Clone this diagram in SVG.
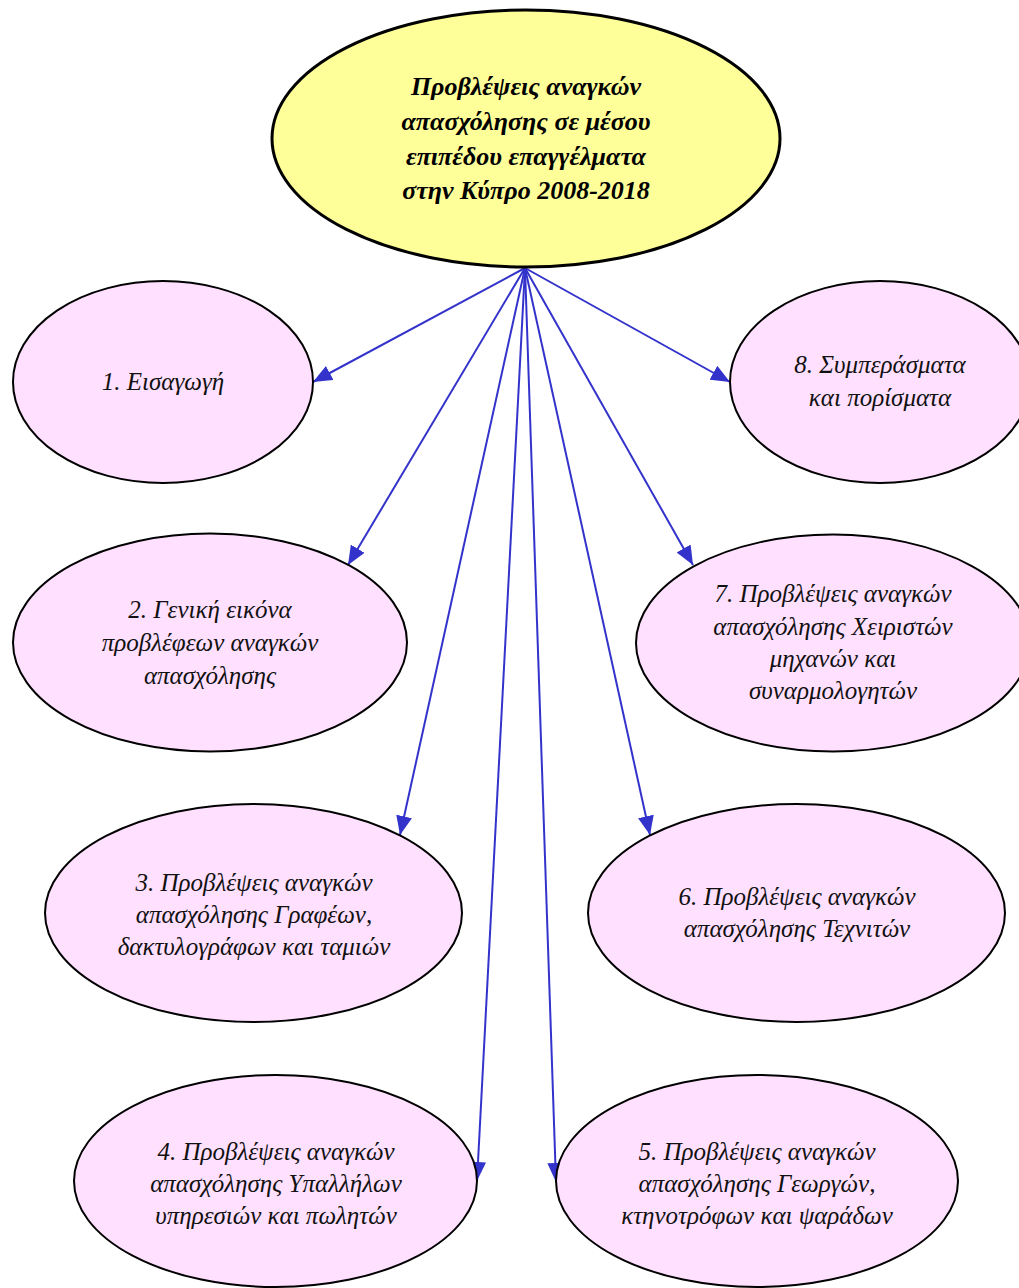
<svg xmlns="http://www.w3.org/2000/svg" width="1019" height="1288" viewBox="0 0 1019 1288">
<defs>
<style>
.root{fill:#FFFF99;stroke:#000;stroke-width:3}
.child{fill:#FFE0FF;stroke:#000;stroke-width:2}
.rt{font-family:"Liberation Serif",serif;font-style:italic;font-weight:bold;font-size:26px;fill:#000;text-anchor:middle}
.ct{font-family:"Liberation Serif",serif;font-style:italic;font-size:25px;fill:#111;text-anchor:middle}
.edge{stroke:#3333CC;stroke-width:2;fill:none;marker-end:url(#arr)}
</style>
<marker id="arr" markerUnits="userSpaceOnUse" markerWidth="20" markerHeight="16" refX="19" refY="8" orient="auto">
<path d="M0,0 L19,8 L0,16 z" fill="#3333CC"/>
</marker>
</defs>
<g id="connectors">
<line class="edge" x1="525" y1="268" x2="313" y2="382"/>
<line class="edge" x1="525" y1="268" x2="730" y2="382"/>
<line class="edge" x1="525" y1="268" x2="348" y2="565"/>
<line class="edge" x1="525" y1="268" x2="693" y2="565"/>
<line class="edge" x1="525" y1="268" x2="400" y2="835"/>
<line class="edge" x1="525" y1="268" x2="650" y2="835"/>
<line class="edge" x1="525" y1="268" x2="477" y2="1181"/>
<line class="edge" x1="525" y1="268" x2="556" y2="1182"/>
</g>
<g id="root">
<ellipse class="root" cx="526" cy="138.5" rx="254" ry="128.5"/>
<text class="rt"><tspan x="526" y="95">Προβλέψεις αναγκών</tspan><tspan x="526" y="130">απασχόλησης σε μέσου</tspan><tspan x="526" y="165">επιπέδου επαγγέλματα</tspan><tspan x="526" y="199">στην Κύπρο 2008-2018</tspan></text>
</g>
<g id="n1">
<ellipse class="child" cx="163" cy="382" rx="150" ry="101"/>
<text class="ct"><tspan x="163" y="390">1. Εισαγωγή</tspan></text>
</g>
<g id="n8">
<ellipse class="child" cx="880" cy="382" rx="150" ry="101"/>
<text class="ct"><tspan x="880" y="373">8. Συμπεράσματα</tspan><tspan x="880" y="406">και πορίσματα</tspan></text>
</g>
<g id="n2">
<ellipse class="child" cx="210" cy="642.5" rx="197" ry="109"/>
<text class="ct"><tspan x="210" y="618">2. Γενική εικόνα</tspan><tspan x="210" y="651">προβλέφεων αναγκών</tspan><tspan x="210" y="684">απασχόλησης</tspan></text>
</g>
<g id="n7">
<ellipse class="child" cx="833" cy="643" rx="197" ry="108.5"/>
<text class="ct"><tspan x="833" y="602">7. Προβλέψεις αναγκών</tspan><tspan x="833" y="635">απασχόλησης Χειριστών</tspan><tspan x="833" y="667">μηχανών και</tspan><tspan x="833" y="699">συναρμολογητών</tspan></text>
</g>
<g id="n3">
<ellipse class="child" cx="253.5" cy="913" rx="208.5" ry="109"/>
<text class="ct"><tspan x="254" y="891">3. Προβλέψεις αναγκών</tspan><tspan x="254" y="923">απασχόλησης Γραφέων,</tspan><tspan x="254" y="955">δακτυλογράφων και ταμιών</tspan></text>
</g>
<g id="n6">
<ellipse class="child" cx="796.5" cy="913" rx="208.5" ry="109"/>
<text class="ct"><tspan x="797" y="905">6. Προβλέψεις αναγκών</tspan><tspan x="797" y="937">απασχόλησης Τεχνιτών</tspan></text>
</g>
<g id="n4">
<ellipse class="child" cx="275.5" cy="1181" rx="201.5" ry="106"/>
<text class="ct"><tspan x="276" y="1160">4. Προβλέψεις αναγκών</tspan><tspan x="276" y="1192">απασχόλησης Υπαλλήλων</tspan><tspan x="276" y="1224">υπηρεσιών και πωλητών</tspan></text>
</g>
<g id="n5">
<ellipse class="child" cx="757" cy="1181" rx="201" ry="106"/>
<text class="ct"><tspan x="757" y="1160">5. Προβλέψεις αναγκών</tspan><tspan x="757" y="1192">απασχόλησης Γεωργών,</tspan><tspan x="757" y="1224">κτηνοτρόφων και ψαράδων</tspan></text>
</g>
</svg>
